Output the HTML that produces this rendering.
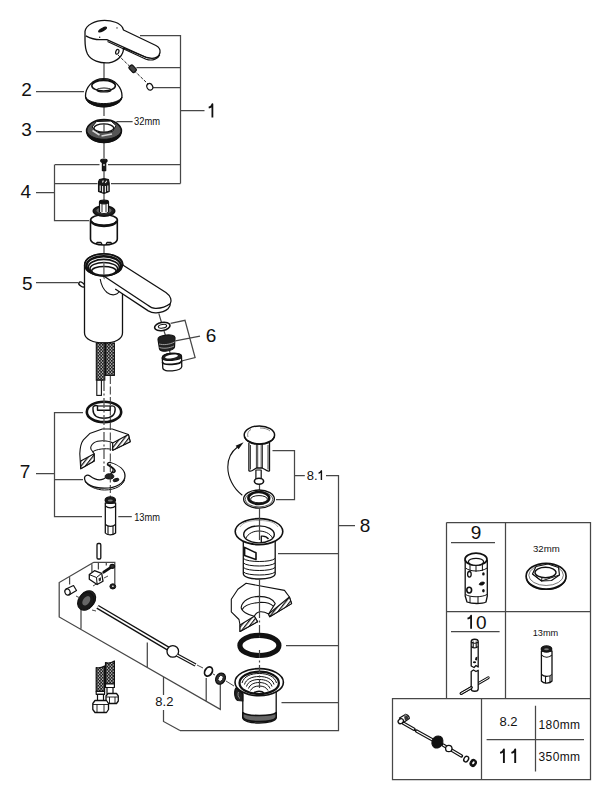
<!DOCTYPE html>
<html><head><meta charset="utf-8">
<style>
html,body{margin:0;padding:0;background:#fff;width:611px;height:800px;overflow:hidden}
svg{display:block}
text{font-family:"Liberation Sans",sans-serif;fill:#111}
</style></head>
<body>
<svg width="611" height="800" viewBox="0 0 611 800">
<defs>
<pattern id="braid" width="3" height="3.2" patternUnits="userSpaceOnUse">
<rect width="3" height="3.2" fill="#1c1c1c"/>
<circle cx="0.75" cy="0.8" r="0.7" fill="#f4f4f4"/>
<circle cx="2.25" cy="2.4" r="0.7" fill="#f4f4f4"/>
</pattern>
<pattern id="hatch" width="3.4" height="3.4" patternUnits="userSpaceOnUse" patternTransform="rotate(38)">
<rect width="3.4" height="3.4" fill="#fff"/>
<rect width="1.2" height="3.4" fill="#111"/>
</pattern>
</defs>
<!-- axis lines -->
<g fill="none" stroke="#444" stroke-width="1.2">
<path d="M104 62V78M104 106V116M104 141V158M104 171V178M104 194V200M104 245V256M104 266V290"/>
<path d="M158.8 313.3L161.5 322.5M164 331L165.5 335.5M169.5 351L170.5 354.5"/>
<path d="M259.5 484V492"/>
</g>
<g id="lines" fill="none" stroke="#474747" stroke-width="1.25">
<!-- bracket 1 -->
<path d="M140 35.5H180.5V183.5M136.5 67.5H180.5M153 87.5H180.5M180.5 110.5H204.5"/>
<!-- bracket 2,3 -->
<path d="M36 91.5H84M36 131.5H82M116.4 121.5H132.6"/>
<!-- bracket 4 -->
<path d="M55 164.5H99.5M108 164.5H180.5M55 183.5H97.5M111 183.5H180.5M54.5 164.5V220.5H89M36 192.5H55"/>
<!-- 5 -->
<path d="M36 282.5H78"/>
<!-- 6 -->
<path d="M170.6 323.4L185 320.3L195.1 357.5L181.5 361M175.4 340.9L200 336.1"/>
<!-- 7 -->
<path d="M83 412.5H54.5V516.5H102M54.5 479.5H83M36 473.5H55M118.3 516.5H131.8"/>
<!-- 8.1 / 8 -->
<path d="M272.5 450.5H294.5V499.5H276M294.5 475.5H304.8M326 475.5H338.5V730.5H180M338.5 525.5H355M278 553.5H338.5M286 645.5H338.5M281.5 702.5H338.5"/>
<path d="M180 730.5L163.5 721.5V710M163.5 695V677"/>
<!-- 8.2 iso bracket -->
<path d="M93.8 562.3L59.2 582.5V617L220.3 709.4V683.8M93.8 562.3H114.8V584.5M69.6 577.3V584.5M91.9 564.2V572M98.4 562.3V569.4M106.3 562.3V565.5M81 628.8V608M147.3 667V642.6M206.2 701.4V678"/>
<!-- boxes -->
<path d="M446.5 522.5H590.5V698M446.5 522.5V698M505.5 522.5V698M446.5 611.5H590.5M392.5 698.5H590.5V779.5H392.5ZM481.5 698.5V779.5M535.5 705.7V771.5M486.6 739.5H584M451 542.5H495M451 631.5H499.6"/>
</g>

<!-- ===== PART 1 handle ===== -->
<g fill="#fff" stroke="#111" stroke-width="1.3" stroke-linejoin="round">
<path d="M85 31.3C86 25 95 20.4 104.6 20.4C112 20.4 120 23 122.5 27.5L123.5 30L155.9 45.5C159.2 47.3 160.5 50 160 52.5C159.3 56 156 58.3 152 58.3C150 58.3 148.5 58 146.5 57.5L123.5 48C123.5 55 118 61.5 109 62.8C100 63.5 91 60.5 87.5 54C85.5 50 85 45 85 40Z"/>
<path d="M85.8 35.8C90 38 95 39.6 100 39.6C103 39.6 105 39.5 106.8 39.6L146.5 57.5" fill="none"/>
<path d="M107.5 41.6L146 59.2C149 60.2 152.5 60.2 155 59.2C157.5 58.2 159 56.8 159.8 54.8" fill="none" stroke-width="1.1"/>
<ellipse cx="102.6" cy="29.6" rx="4.3" ry="1.2" transform="rotate(-28 102.6 29.6)" fill="#111"/>
<circle cx="117" cy="27.9" r="0.7" fill="#111" stroke="none"/>
<circle cx="99.7" cy="37.3" r="0.7" fill="#111" stroke="none"/>
<ellipse cx="117.3" cy="51.8" rx="1.5" ry="2.5" transform="rotate(20 117.3 51.8)" fill="none" stroke-width="1.2"/>
</g>
<path d="M118 55L148 84" stroke="#222" stroke-width="1" stroke-dasharray="3 1.5" fill="none"/>
<g stroke="#111" stroke-width="1.2">
<rect x="130.2" y="65" width="4.8" height="7.5" rx="1.3" transform="rotate(-42 132.6 68.7)" fill="#444"/>
<ellipse cx="149.8" cy="86.8" rx="2.8" ry="3.4" transform="rotate(-30 149.8 86.8)" fill="#fff"/>
</g>

<!-- ===== PART 2 dome ===== -->
<g stroke="#111" stroke-width="1.3" fill="#fff">
<path d="M85.5 96C85.5 88 92 78.7 103.8 78.7C115.5 78.7 122 88 122 96C122 102 114 106.6 103.8 106.6C93.5 106.6 85.5 102 85.5 96Z"/>
<path d="M85.6 97C86 103 95 107 103.8 107C112.5 107 121.5 103 122 97C120 101 112 103.6 103.8 103.6C95.5 103.6 87.5 101 85.6 97Z" fill="#111" stroke-width="1"/>
<ellipse cx="103.6" cy="85.7" rx="11.8" ry="5.2" stroke-width="1.5"/>
<path d="M92.5 83.5C95 80.5 99 79.8 103.6 79.8C108 79.8 112.5 80.5 114.8 83.5" fill="none" stroke-width="1.6"/>
<ellipse cx="104" cy="90" rx="7" ry="2" fill="none" stroke-width="1.2"/>
</g>

<!-- ===== PART 3 nut ===== -->
<g stroke="#111" fill="#fff" stroke-linejoin="round">
<ellipse cx="104" cy="131" rx="17.4" ry="11.4" fill="#555" stroke-width="1.6"/>
<path d="M86.8 132C88 139 96 142.6 104 142.6C112 142.6 120 139 121.2 132C118 137 111 139.3 104 139.3C97 139.3 90 137 86.8 132Z" fill="#111" stroke-width="1"/>
<path d="M92 127L96.5 121.5L111 121L116 125.5L112.5 131.5L98 132.5Z" stroke-width="1" fill="#fff"/>
<path d="M92.5 130.5L99.5 135M101.5 136L112 134" stroke="#d8d8d8" stroke-width="1.6" fill="none"/>
<ellipse cx="103.8" cy="128" rx="9.9" ry="4.2" stroke-width="1.3"/>
<path d="M104 123.8V132" stroke="#444" stroke-width="1.2"/>
</g>

<!-- ===== PART 4 ===== -->
<g stroke="#111" stroke-width="1.2" fill="#fff" stroke-linejoin="round">
<ellipse cx="103.9" cy="160.8" rx="3.2" ry="1.8" fill="#1a1a1a"/>
<rect x="102.4" y="162" width="3.3" height="8.6" fill="#1a1a1a"/>
<ellipse cx="104" cy="165" rx="0.8" ry="1.1" fill="#fff" stroke="none"/>
<path d="M98.5 182L99.5 179.5L104 178.6L108.5 179.5L109.2 183V191.5L104 193.6L98.5 191.5Z" fill="#1a1a1a" stroke-width="1.1"/>
<path d="M100.2 185.5V191M102.6 186V192.3M105.4 186V192.3M107.8 185.5V191" fill="none" stroke="#f0f0f0" stroke-width="1.1"/>
<path d="M102.5 182.5L103.3 180.5M105.3 183L106.8 180.8" fill="none" stroke="#f0f0f0" stroke-width="1.1"/>
<!-- cartridge -->
<path d="M90.5 220V239C90.5 243 97 245 104 245C111 245 117.3 243 117.3 239V220Z" stroke-width="1.6"/>
<ellipse cx="104" cy="220" rx="13.4" ry="5.2" stroke-width="1.6"/>
<path d="M90.8 221C93 225 98 226 104 226C110 226 115 225 117 221" fill="none" stroke-width="2.4"/>
<ellipse cx="104" cy="211" rx="10.8" ry="5.2" fill="#222" stroke-width="1.4"/>
<ellipse cx="104" cy="210.5" rx="7.5" ry="3.2" fill="#666" stroke="none"/>
<path d="M99.5 202V212C101 214 107 214 108.5 212V202Z"/>
<ellipse cx="104" cy="202" rx="4.5" ry="1.8" fill="#111"/>
<path d="M102 204V212M106 204V212" fill="none" stroke-width="0.9"/>
<path d="M96 244L97 242.5H101L102 244.5M106 244.5L107 242.5H111L112 244" fill="none" stroke-width="1.3"/>
</g>

<!-- ===== PART 5 faucet body ===== -->
<g stroke="#111" stroke-width="1.3" fill="#fff" stroke-linejoin="round">
<ellipse cx="81.8" cy="284.5" rx="3.4" ry="1.8" transform="rotate(35 81.8 284.5)" stroke-width="1.4"/>
<path d="M84.5 265V333C84.5 339 93 343 104 343C115 343 122.5 339 122.5 333V292"/>
<path d="M84.5 265C84.5 258 93 254 104 254C115 254 123 258 123 265C123 266 122.5 267 122 268Z"/>
<path d="M121.2 264L165.9 292.5C172 296.5 172 306 168 308.7C163 312.5 152 313.5 148.3 310.9L115.2 289L103 275.5Z" stroke="none"/>
<path d="M121.2 264L165.9 292.5C171 296 172 301 170.3 303.6M103 275.5L147.5 305C150 307 153 308.5 155.6 308.4C161 308.5 166 307 170.3 303.6M115.2 289L148.3 310.9C151 312.5 154 313 156.4 312.8C161 312.5 166 310.5 168 308.7C170 306.5 170.5 305 170.3 303.6" fill="none"/>
<path d="M100.2 279C101 284 103 289 107 292.5C109.5 294.5 112 295 114 294.8C116.5 294.5 118.5 293 119.1 291.2" fill="none" stroke-width="1.1"/>
<ellipse cx="103.6" cy="264.9" rx="18.8" ry="11" stroke-width="1.6"/>
<ellipse cx="103.7" cy="265.9" rx="17.2" ry="9.7" stroke-width="2.4"/>
<ellipse cx="103.8" cy="267.3" rx="15.5" ry="7.9" stroke-width="1.6"/>
<ellipse cx="103.8" cy="268.8" rx="13.8" ry="6.2" stroke-width="1.5"/>
<ellipse cx="103.9" cy="270.8" rx="12.2" ry="4.4" stroke-width="1.5"/>
</g>
<path d="M103.9 262V275" stroke="#555" stroke-width="1.2"/>
<!-- hoses top -->
<g stroke="#111" stroke-width="1.1">
<rect x="96.3" y="343" width="8.5" height="37.2" fill="url(#braid)"/>
<rect x="105.5" y="343" width="8.9" height="32.4" fill="url(#braid)"/>
<rect x="96.8" y="380.2" width="4.6" height="15.2" fill="#fff"/>
</g>

<!-- ===== PART 6 ===== -->
<g stroke="#111" fill="#fff" stroke-linejoin="round">
<ellipse cx="162.3" cy="326.5" rx="7.8" ry="4" transform="rotate(-10 162.3 326.5)" stroke-width="1.6"/>
<ellipse cx="162.5" cy="326.3" rx="4.2" ry="1.8" transform="rotate(-10 162.5 326.3)" stroke-width="1.1"/>
<path d="M158 339.5C157.5 335 174.5 333 175 337.5L174.5 347C174 351 160 353 159.5 349Z" fill="#222" stroke-width="1.2"/>
<path d="M159 344C163 345 169 345 174.5 342M159.5 347.5C164 349 170 348 174 346" fill="none" stroke="#aaa" stroke-width="0.9"/>
<path d="M162.3 358C162 353 181 351.5 181.5 356.5L181.8 366.5C181.5 371 163 373 162.8 368Z" stroke-width="1.3"/>
<path d="M162.3 358C162.5 362 181.5 360.5 181.5 356.5C181 351.5 162 353 162.3 358Z" fill="#222" stroke-width="1.3"/>
<ellipse cx="171.5" cy="356.5" rx="6.5" ry="1.8" transform="rotate(-8 171.5 356.5)" fill="#fff" stroke="none"/>
<path d="M162.5 362C163 366 181 364.5 181.6 361" fill="none" stroke-width="1.8"/>
</g>

<!-- ===== PART 7 ===== -->
<g stroke="#111" fill="#fff" stroke-linejoin="round">
<ellipse cx="104" cy="411.9" rx="17.2" ry="10.2" stroke-width="2.6"/>
<path d="M93 407.5C93 405.5 96 405.3 97.5 405.8V410.2H110.2V406.2C113 405.3 115.2 406.3 115.2 409C115.2 414.5 111.5 418.2 104 418.2C96.5 418.2 93 414.5 93 409.5Z" stroke-width="1.4" fill="none"/>
<path d="M97.5 406H110.2" stroke-width="1.2" fill="none"/>
<!-- sink section -->
<path d="M80.7 468.7L79.8 453.8C80 447 81 443 83.4 439.9L89.7 433.6L102.3 429L112.2 429L128.4 434.5L130.2 441.7L112.7 450.2V443C108 440 98 440 94.2 442.6C91 445 90.5 448 91 449.3L94.2 453.8V461Z" stroke-width="1.1"/>
<path d="M112.7 443L128.4 434.5L130.2 441.7L112.7 450.2Z" fill="url(#hatch)" stroke-width="1.1"/>

<path d="M80.7 461L94.2 453.8V461L80.7 468.7Z" fill="url(#hatch)" stroke-width="1.1"/>

<path d="M92.4 452C96 449 106 448 111.3 449.3" fill="none" stroke-width="1"/>
<!-- C plate -->
<path d="M84.5 478C84.5 475 88 474.5 90 476C94 479 99 481 103 479.2L106 477.5C110 475 114 472 113 469C112 467 109 466 107.5 465C107 463.5 108.5 462 110.5 462.5C119 465 125 470 125 476C125 483 116 488.2 104.5 488.2C93 488.2 84.5 484 84.5 478Z" stroke-width="1.3"/>
<path d="M85 481.5C88 486 96 490 104.5 490C116 490 123 485 124.5 480" fill="none" stroke-width="1"/>
<ellipse cx="109.5" cy="476.4" rx="4.3" ry="2.6" fill="#222" stroke-width="1"/>
<ellipse cx="116" cy="480" rx="3" ry="1.5" transform="rotate(-15 116 480)" fill="#222" stroke-width="0.9"/>
<path d="M108.2 464.5C110 466 114 468 115 470.5C115.5 472.5 112 473 111 472" fill="none" stroke-width="1.6"/>
</g>
<g fill="none" stroke="#555" stroke-width="1.3">
<path d="M104 381V472" stroke-dasharray="10 2.5 2 2.5"/>
</g>
<g fill="none" stroke="#333" stroke-width="1">
<path d="M110.3 376V420M110.3 422V498" stroke-dasharray="8 2.5"/>
</g>
<g stroke="#111" fill="#fff" stroke-linejoin="round">
<!-- socket 13mm -->
<path d="M105.3 503V533C107 535.5 113 535.5 115.6 533V503Z" stroke-width="1.3"/>
<path d="M105.5 506C108 508.5 113 508.5 115.5 506M105.5 524.5C108 527 113 527 115.5 524.5M108 526V534.5M113 526V534" fill="none" stroke-width="1.1"/>
<ellipse cx="110.3" cy="500.2" rx="5.2" ry="3.3" fill="#1a1a1a" stroke-width="1.2"/>
<ellipse cx="110.3" cy="500.5" rx="2.5" ry="1" fill="#777" stroke="none"/>
</g>

<!-- ===== 8.2 mechanism ===== -->
<g stroke="#111" fill="#fff" stroke-linejoin="round">
<rect x="97" y="543.5" width="3.8" height="15.5" rx="1.2" stroke-width="1.3"/>
<path d="M89.3 574.6L94.5 570.7L101.7 573.3L103 581.2L97.1 584.5L89.3 579.2Z" stroke-width="1.3"/>
<path d="M89.3 574.6L96.5 577.5L101.7 573.3M96.5 577.5L97.1 584.5" fill="none" stroke-width="1"/>
<path d="M98.5 578.5L101 577.3V580.5L99 581.5Z" fill="#333" stroke="none"/>
<path d="M103.7 572.2L110.5 567.6" fill="none" stroke-width="2.8" stroke-linecap="round"/>
<ellipse cx="112.3" cy="566.3" rx="2.3" ry="2" fill="#333" stroke-width="1.2"/>
<ellipse cx="112.8" cy="586.4" rx="2.9" ry="2.6" fill="#222" stroke-width="1"/>
<ellipse cx="112.9" cy="586.3" rx="0.9" ry="0.8" fill="#fff" stroke="none"/>
<path d="M66 589L73.5 585.5L76.5 590.5L69 595Z" stroke-width="1.2"/>
<ellipse cx="67.5" cy="592" rx="2.6" ry="3.1" transform="rotate(-20 67.5 592)" stroke-width="1.2"/>
<ellipse cx="87.5" cy="599.5" rx="7.5" ry="9.3" transform="rotate(35 87.5 599.5)" fill="#222" stroke-width="1.2"/>
<ellipse cx="85.8" cy="601.3" rx="7.5" ry="9.5" transform="rotate(35 85.8 601.3)" fill="#1a1a1a" stroke-width="1.2"/>
<ellipse cx="86.3" cy="600.8" rx="3.3" ry="5.2" transform="rotate(35 86.3 600.8)" fill="#666" stroke="none"/>
<!-- rod -->
<path d="M97.5 606.8L168 648.5" fill="none" stroke-width="4.4"/>
<path d="M97.5 606.8L168 648.5" fill="none" stroke="#fff" stroke-width="1.7"/>
<circle cx="172.8" cy="651.4" r="5.8" stroke-width="1.3"/>
<path d="M177 655L195.5 665" fill="none" stroke-width="3.6"/>
<path d="M177 655L195.5 665" fill="none" stroke="#fff" stroke-width="1.2"/>
<ellipse cx="208.5" cy="671.5" rx="3.6" ry="4.9" transform="rotate(30 208.5 671.5)" stroke-width="1.8"/>
<ellipse cx="220.5" cy="678.6" rx="4.6" ry="5.8" transform="rotate(30 220.5 678.6)" fill="#333" stroke-width="1.3"/>
<ellipse cx="220.6" cy="678.4" rx="2.2" ry="3.2" transform="rotate(30 220.6 678.4)" fill="#fff" stroke="#111" stroke-width="0.8"/>
</g>
<path d="M76 596L80 598M93 586L98 583M104 578L108 576M92 610L96 611M197 665L203 668M213 674L215 675M226 681L234 686" stroke="#333" stroke-width="0.9" fill="none"/>
<!-- hoses bottom -->
<g stroke="#111" stroke-width="1.2" fill="#fff" stroke-linejoin="round">
<path d="M105.5 662.5C108 663.5 112 662.5 114.4 661V684H105.5Z" fill="url(#braid)"/>
<path d="M105.5 684H114.4V687.5H105.5Z"/>
<path d="M107 687.5H113V694H107Z"/>
<path d="M106 696L108 693.5H116.5L118.3 696V701L116.5 703.5H108L106 701Z" stroke-width="1.3"/>
<path d="M106.2 697H118M109.5 697V703.5M115 697V703.5" fill="none" stroke-width="0.9"/>
<path d="M96.2 667.5C99 668.5 102 667.5 104.6 666V691.3H96.2Z" fill="url(#braid)"/>
<path d="M96.2 691.3H104.6V694.3H96.2Z"/>
<path d="M97.5 694.3H103.5V701H97.5Z"/>
<path d="M92.8 703.5L95 700.5H106.5L108.5 703.5V709.5L106.5 712.5H95L92.8 709.5Z" stroke-width="1.3"/>
<path d="M93 704.5H108.3M97 704.5V712.5M104 704.5V712.5" fill="none" stroke-width="0.9"/>
</g>

<!-- ===== 8.1 stopper ===== -->
<g stroke="#111" fill="#fff" stroke-linejoin="round">
<path d="M248.9 443V470.7C250 471.5 252 471 254 469.5L256.5 468H262L265 469.5C267 471 268.5 471.5 269.5 470.7V443" stroke-width="1.3"/>
<path d="M250.5 445V469.5M256.4 444V468M257.7 444V468M261.2 444V468M262.5 444V468M268 445V469.5" fill="none" stroke-width="0.8"/>
<path d="M255.9 470V479.5H261.2V470Z" stroke-width="1.2"/>
<ellipse cx="259" cy="481.2" rx="4.6" ry="3" stroke-width="1.6"/>
<ellipse cx="259.4" cy="434.9" rx="15.2" ry="9" stroke-width="1.5"/>
<path d="M244.4 436.8C246.5 442 252 444.3 259.4 444.3C266.8 444.3 272.5 442 274.5 436.8" fill="none" stroke-width="1.5"/>
<path d="M248 437C247 434 248 431 251 429.5M260 428C264 428 268 429 270 431" fill="none" stroke="#666" stroke-width="0.8"/>
<ellipse cx="259" cy="499.1" rx="15.4" ry="9.1" stroke-width="1.3"/>
<ellipse cx="259" cy="499.3" rx="13.8" ry="7.6" fill="none" stroke-width="0.7"/>
<ellipse cx="258.8" cy="498" rx="10.4" ry="6" stroke-width="2.6"/>
<ellipse cx="259" cy="499.2" rx="8.4" ry="3.6" stroke-width="1"/>
</g>
<path d="M242.3 495.2C233 488.5 227.8 477 227.8 467C227.8 458 231.5 451.5 237.5 447" fill="none" stroke="#111" stroke-width="1.1"/>
<path d="M243.6 442.3L235.6 445.8L238.6 449.3Z" fill="#111"/>

<!-- ===== 8 drain upper ===== -->
<g stroke="#111" fill="#fff" stroke-linejoin="round">
<path d="M243.3 538V573.5C243.3 577 250.5 579 259.2 579C268 579 275.2 577 275.2 573.5V538" stroke-width="1.3"/>
<path d="M243.5 558.5C247 562.5 271.5 562.5 275 558.5M243.5 563C247 567 271.5 567 275 563M243.5 567.5C247 571.5 271.5 571.5 275 567.5M243.5 572C247 576 271.5 576 275 572" fill="none" stroke-width="1"/>
<path d="M244.6 547.4L256 552.8V559.6L244.6 555.5Z" stroke-width="1.6"/>
<ellipse cx="259" cy="531.6" rx="23.8" ry="13" stroke-width="1.6"/>
<path d="M240 527C243 522 250 520.5 259 520.5C268 520.5 275 522 278 527" fill="none" stroke="#999" stroke-width="0.8"/>
<ellipse cx="259" cy="534.4" rx="15.3" ry="8.5" stroke-width="1.4"/>
<path d="M245.5 539C248 533 254 531 259 531C264 531 270 533 272.5 538" fill="none" stroke-width="1"/>
<path d="M261.3 542V536.2C264 535.8 267 537 268.5 539" fill="none" stroke-width="1.3"/>
<!-- sink section -->
<path d="M246.1 583.3L284.5 590.4L289.4 597L291.6 603.6L269.7 616.7L268.6 614C265 612 262 611.5 259.8 611.8C258 612 255.5 614 254.3 616.2L257.6 621.7L240 631.5V625L239 619.5L231.3 611.8V599.2L237.9 589.3Z" stroke-width="1.1"/>
<path d="M289.4 597L291.6 603.6L269.7 616.7L268.6 614Z" fill="url(#hatch)" stroke-width="1.1"/>
<path d="M254.3 616.2L257.6 621.7L240 631.5L240 625Z" fill="url(#hatch)" stroke-width="1.1"/>
<path d="M241.2 607.4C242 601 250 596.5 258.7 596.4C266 596.5 273 599 275.2 603.6L268.6 614M242.3 609.5C244 605 252 603 260.9 602.2C266 602.2 271 603.5 273.5 606.5M241.2 607.4C241 611 248 615 254.3 616.2" fill="none" stroke-width="1.1"/>
<!-- O ring -->
<ellipse cx="259.4" cy="645.4" rx="19.5" ry="10.1" fill="none" stroke-width="5.2"/>
<!-- lower drain -->
<path d="M242.8 690V717.5C242.8 721 250 723 259.2 723C268.5 723 276.2 721 276.2 717.5V690" stroke-width="1.3"/>
<path d="M242.8 712.5C246 716.5 272.5 716.5 276.2 712.5V717.5C273 723 246 723 242.8 717.5Z" fill="#666" stroke-width="1.6"/>
<path d="M236.5 687.5C233.8 690 234 698 237.5 700.5L242.8 701V694Z" fill="#222" stroke-width="1.2"/>
<path d="M238.5 692C237.5 694 238 697.5 240 698.5" fill="none" stroke="#999" stroke-width="0.9"/>
<ellipse cx="259.2" cy="682.2" rx="24.2" ry="13.6" stroke-width="1.6"/>
<ellipse cx="259.2" cy="682.9" rx="19.7" ry="11.2" stroke-width="2.2"/>
<path d="M242 683C244 676 251 673.5 259.2 673.5C267.5 673.5 274.5 676 276.5 683M244.5 684.5C246 679 252 676.5 259.2 676.5C266.5 676.5 272.5 679 274 684.5M246.5 686.5C248 681.5 253 679.5 259.2 679.5C265.5 679.5 270.5 681.5 272 686.5M248.5 688.5C250 684.5 254 682.5 259.2 682.5C264.5 682.5 268.5 684.5 270 688.5M250.5 690.5C252 687.5 255 686 259.2 686C263.5 686 266.5 687.5 268 690.5" fill="none" stroke-width="1"/>
<path d="M254 693C256 690.5 262 690.5 264 693" fill="none" stroke-width="1.5"/>
</g>

<g fill="none" stroke="#444" stroke-width="1.2">
<path d="M259.5 508V540M259.5 578V610" />
<path d="M259.5 610V640M259.5 650V688" stroke-dasharray="8 2.5 2 2.5"/>
</g>
<!-- ===== box tools ===== -->
<g stroke="#111" fill="#fff" stroke-linejoin="round">
<!-- tool 9 -->
<path d="M465.2 560V596L467 602C472 604 482 604 486 602L487.3 596V560" stroke-width="1.3"/>
<ellipse cx="476" cy="559.2" rx="11" ry="6" stroke-width="1.7"/>
<ellipse cx="476" cy="561.8" rx="7.6" ry="3.5" stroke-width="1.2"/>
<path d="M465.6 568C470 572 482 572 487 568M465.6 594.5C470 597.5 482 597.5 487 594.5M470 564.5V570.8M476 565.5V571.8M482.4 564.5V570.8M470 596.5V603M478 597V603.5" fill="none" stroke-width="1"/>
<ellipse cx="469.4" cy="574.3" rx="1.8" ry="2.8" fill="#fff" stroke-width="1.3"/>
<ellipse cx="483.4" cy="573.9" rx="1.3" ry="1.6" fill="#111" stroke="none"/>
<path d="M479.2 584.5C480 582 483 581.5 484.4 582.5C484.5 584.5 482 586 479.2 584.5Z" fill="#111" stroke="#111" stroke-width="0.9"/>
<ellipse cx="469.2" cy="590.1" rx="2.4" ry="2.9" fill="#fff" stroke-width="1.6"/>
<ellipse cx="483.4" cy="590.8" rx="1.3" ry="1.8" fill="#111" stroke="none"/>
<!-- nut 32mm -->
<ellipse cx="546.1" cy="576.2" rx="20" ry="12.9" stroke-width="1.7"/>
<path d="M526.5 578.5C528 585.5 536 589.5 546.1 589.5C556 589.5 564.5 585.5 565.8 578.5" fill="none" stroke-width="1.2"/>
<ellipse cx="546.1" cy="575.2" rx="17.3" ry="10.3" fill="none" stroke-width="0.8" stroke="#555"/>
<path d="M532.5 574L536 566.5L548 564L558.5 567.5L559.5 575L551.5 580.5L541.5 581Z" stroke-width="1.2"/>
<path d="M532.5 574L541.5 581L559.5 575M541.5 581L542 577.5" fill="none" stroke-width="1"/>
<ellipse cx="545.5" cy="572.5" rx="10.5" ry="5.2" stroke-width="1.4"/>
<!-- socket 13mm box -->
<path d="M541.4 651V681C543.5 683.8 550 683.8 552 681V651Z" stroke-width="1.3"/>
<path d="M541.6 655C544 658 549.5 658 551.8 655M541.6 674.5C544 677 549.5 677 551.8 674.5M545.5 676.8V683.5M550 676V682" fill="none" stroke-width="1.1"/>
<ellipse cx="546.5" cy="649" rx="5.3" ry="3.1" fill="#1a1a1a" stroke-width="1.2"/>
<ellipse cx="546.5" cy="649.2" rx="2.4" ry="1" fill="#777" stroke="none"/>
<!-- tool 10 -->
<path d="M471.2 641.5C471.2 638.5 478.2 638.5 478.2 641.5V667L476 665.5L474 667.5L471.2 666Z" stroke-width="1.3"/>
<path d="M471.3 646.5C473 648.3 476.5 648.3 478.1 646.5M473.2 641.5V647.8M476.2 641.5V647.8M471.3 641.8C472 643.8 477.5 643.8 478.1 641.8" fill="none" stroke-width="1.1"/>
<path d="M475.5 657.5L477.5 656.5L477 660.5L475 660Z" fill="#111" stroke="none"/>
<ellipse cx="474.5" cy="662.3" rx="1.6" ry="1" fill="#111" stroke="none"/>
<path d="M461.1 693.5L488.3 677.7" stroke="#111" stroke-width="2.8" stroke-linecap="round"/>
<path d="M461.1 693.5L488.3 677.7" stroke="#fff" stroke-width="1" stroke-linecap="round"/>
<path d="M471.2 671.5L473.5 670L476 671.5L478.2 670.3V689C478.2 692 471.2 692 471.2 689Z" stroke-width="1.3"/>
<path d="M461.1 693.5L471.5 687.5" stroke="#111" stroke-width="2.8" stroke-linecap="round"/>
<path d="M461.1 693.5L471 687.8" stroke="#fff" stroke-width="1" stroke-linecap="round"/>
<!-- rod in bottom box -->
<path d="M403 723L414 729.3M416.5 731L435 741.2M443 745L461.5 756" fill="none" stroke-width="3.4" stroke-linecap="round"/>
<path d="M403 723L414 729.3M416.5 731L435 741.2M443 745L461.5 756" fill="none" stroke="#fff" stroke-width="1.2"/>
<path d="M399.5 718L405 714.8C407 714 409.5 716.5 409.3 718.5L403.5 722.5Z" fill="#fff" stroke-width="1.3"/>
<path d="M404 716.5L407.5 715.5L408.5 719L405 720.5Z" fill="#333" stroke="none"/>
<ellipse cx="400.8" cy="721.2" rx="2.8" ry="2.3" transform="rotate(-30 400.8 721.2)" stroke-width="1.3"/>
<path d="M405.6 713.5V716" fill="none" stroke="#777" stroke-width="0.9"/>
<ellipse cx="437.4" cy="742" rx="5.3" ry="6.3" transform="rotate(30 437.4 742)" fill="#111" stroke-width="1"/>
<circle cx="448.8" cy="748.5" r="3.2" stroke-width="1.3"/>
<ellipse cx="466.2" cy="759.1" rx="2.2" ry="3" transform="rotate(30 466.2 759.1)" stroke-width="1.4"/>
<ellipse cx="473.2" cy="763" rx="3" ry="3.6" transform="rotate(30 473.2 763)" fill="#111" stroke-width="1"/>
<ellipse cx="473.4" cy="762.8" rx="1" ry="1.6" transform="rotate(30 473.4 762.8)" fill="#fff" stroke="none"/>
</g>

<g id="labels">
<text x="21.3" y="96.2" font-size="19">2</text>
<text x="21.3" y="136.2" font-size="19">3</text>
<text x="20.5" y="197.5" font-size="19">4</text>
<text x="22" y="289.6" font-size="19">5</text>
<text x="19.7" y="478.3" font-size="19">7</text>
<text x="205.7" y="342.2" font-size="19">6</text>
<text x="359.7" y="532.4" font-size="19">8</text>
<text x="134.1" y="124.9" font-size="10" textLength="26" lengthAdjust="spacingAndGlyphs">32mm</text>
<text x="134.2" y="521.2" font-size="10" textLength="25.8" lengthAdjust="spacingAndGlyphs">13mm</text>
<text x="306.8" y="480.2" font-size="13">8.</text>
<text x="155.3" y="705.8" font-size="13">8.2</text>
<text x="470.7" y="538.9" font-size="19">9</text>
<text x="476" y="628.7" font-size="19">0</text>
<text x="533" y="552.2" font-size="9.7" textLength="26.7" lengthAdjust="spacingAndGlyphs">32mm</text>
<text x="532.7" y="636.1" font-size="9.7" textLength="25.5" lengthAdjust="spacingAndGlyphs">13mm</text>
<text x="499.5" y="726.3" font-size="13">8.2</text>
<text x="538.5" y="729" font-size="12" letter-spacing="0.4">180mm</text>
<text x="538.5" y="760.5" font-size="12" letter-spacing="0.4">350mm</text>
</g>
<g fill="none" stroke="#111" stroke-linejoin="round">
<path d="M208.7 107.6C210.6 107.2 212 105.9 212.4 104.2V117.6" stroke-width="1.8"/>
<path d="M467.5 618.6C469.5 618.2 470.7 617.2 471.1 615.6V628.7" stroke-width="1.8"/>
<path d="M500.1 752.9C502.3 752.4 503.5 751.2 503.9 749.4V762.9M511.4 752.9C513.6 752.4 514.8 751.2 515.2 749.4V762.9" stroke-width="1.9"/>
<path d="M318.6 473.2C320 472.9 321 472 321.4 470.8V480.1" stroke-width="1.4"/>
</g>
</svg>
</body></html>
